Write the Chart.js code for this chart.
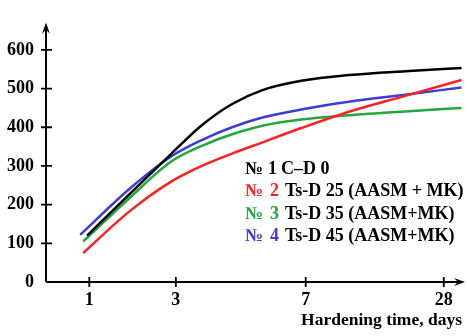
<!DOCTYPE html>
<html>
<head>
<meta charset="utf-8">
<script src="https://cdn.jsdelivr.net/npm/chart.js@4.4.1/dist/chart.umd.min.js"></script>
<style>
  html, body { margin: 0; padding: 0; background: #fff; }
  #wrap { width: 467px; height: 336px; }
</style>
</head>
<body>
<div id="wrap"><canvas id="hardening"></canvas></div>
<script>
// axis positions of the day ticks (the axis is not to scale in days)
const dayLabels = ["1", "3", "7", "28"];
const dayPos = [1, 3, 6, 9.19];
const yTicks = [0, 100, 200, 300, 400, 500, 600];

// sample positions along the x axis shared by all curves
const curvePos = [1.9, 2.9, 3.6, 4.3, 5.0, 5.9, 7.0, 8.3, 9.6];

const names = ["C–D 0", "Ts-D 25 (AASM + MK)", "Ts-D 35 (AASM+MK)", "Ts-D 45 (AASM+MK)"];
const colors = ["#000000", "#ff2020", "#20a83e", "#3c3cd8"];
const startPos = [0.95, 0.86, 0.86, 0.79];
const startVal = [120, 75, 105, 122];
const no1 = [224, 332, 405, 460, 496, 520, 535, 545, 553];
const no2 = [180, 260, 300, 332, 361, 398, 440, 481, 522];
const no3 = [214, 312, 352, 382, 404, 420, 431, 441, 450];
const no4 = [238, 325, 367, 400, 425, 446, 466, 484, 503];
const series = [no1, no2, no3, no4];

const FONT = "bold 18px 'Liberation Serif', 'Times New Roman', serif";

const datasets = series.map((vals, i) => ({
  label: names[i],
  data: [{ x: startPos[i], y: startVal[i] }].concat(
    vals.map((v, j) => ({ x: curvePos[j], y: v }))
  ),
  borderColor: colors[i],
  borderWidth: 2.5,
  pointRadius: 0,
  cubicInterpolationMode: "monotone",
  fill: false,
}));

const axesPlugin = {
  id: "axesPlugin",
  afterDraw(chart) {
    const c = chart.ctx;
    const xs = chart.scales.x;
    const ys = chart.scales.y;
    const x0 = xs.left;
    const y0 = ys.getPixelForValue(0);
    const yTop = chart.chartArea.top;
    const xEnd = chart.chartArea.right;
    c.save();
    c.strokeStyle = "#000";
    c.fillStyle = "#000";
    c.lineWidth = 2;
    // axis lines
    c.beginPath();
    c.moveTo(x0, y0);
    c.lineTo(x0, yTop + 2);
    c.moveTo(x0, y0);
    c.lineTo(xEnd - 2, y0);
    c.stroke();
    // arrow heads
    c.beginPath();
    c.moveTo(x0, yTop);
    c.lineTo(x0 - 4, yTop + 11);
    c.lineTo(x0, yTop + 7);
    c.lineTo(x0 + 4, yTop + 11);
    c.closePath();
    c.fill();
    c.beginPath();
    c.moveTo(xEnd, y0);
    c.lineTo(xEnd - 11, y0 - 4);
    c.lineTo(xEnd - 7, y0);
    c.lineTo(xEnd - 11, y0 + 4);
    c.closePath();
    c.fill();
    // tick crosses
    c.lineWidth = 1.8;
    c.beginPath();
    yTicks.slice(1).forEach((v) => {
      const py = ys.getPixelForValue(v);
      c.moveTo(x0 - 5, py);
      c.lineTo(x0 + 6, py);
    });
    dayPos.forEach((p) => {
      const px = xs.getPixelForValue(p);
      c.moveTo(px, y0 - 5);
      c.lineTo(px, y0 + 5);
    });
    c.stroke();
    // axis title
    c.font = "bold 17.5px 'Liberation Serif', 'Times New Roman', serif";
    c.textAlign = "right";
    c.textBaseline = "alphabetic";
    c.fillText("Hardening time, days", 462, 325);
    // legend block
    c.font = FONT;
    c.textAlign = "left";
    c.textBaseline = "middle";
    const rowY = [169, 191.7, 214.3, 236.7];
    const numX = [268, 270, 270, 270];
    const nameX = [281, 285, 285, 285];
    names.forEach((n, i) => {
      c.fillStyle = colors[i];
      c.fillText("№", 245, rowY[i]);
      c.fillText(String(i + 1), numX[i], rowY[i]);
      c.fillStyle = "#000";
      c.fillText(n, nameX[i], rowY[i]);
    });
    c.restore();
  },
};

new Chart(document.getElementById("hardening"), {
  type: "line",
  data: { datasets: datasets },
  options: {
    responsive: true,
    maintainAspectRatio: false,
    animation: false,
    layout: { padding: { top: 5, right: 2, left: 0, bottom: 0 } },
    plugins: {
      legend: { display: false },
      tooltip: { enabled: false },
    },
    scales: {
      x: {
        type: "linear",
        min: 0,
        max: 9.68,
        afterBuildTicks: (s) => {
          s.ticks = dayPos.map((p) => ({ value: p }));
        },
        afterFit: (s) => {
          s.height = 54;
        },
        grid: { display: false, drawTicks: false },
        border: { display: false },
        ticks: {
          color: "#000",
          font: { family: "'Liberation Serif', serif", size: 18, weight: "bold" },
          padding: 8,
          maxRotation: 0,
          autoSkip: false,
          callback: (v) => dayLabels[dayPos.indexOf(v)],
        },
      },
      y: {
        min: 0,
        max: 670,
        afterBuildTicks: (s) => {
          s.ticks = yTicks.map((v) => ({ value: v }));
        },
        afterFit: (s) => {
          s.width = 46;
        },
        grid: { display: false, drawTicks: false },
        border: { display: false },
        ticks: {
          color: "#000",
          font: { family: "'Liberation Serif', serif", size: 18, weight: "bold" },
          padding: 12,
        },
      },
    },
  },
  plugins: [axesPlugin],
});
</script>
</body>
</html>
